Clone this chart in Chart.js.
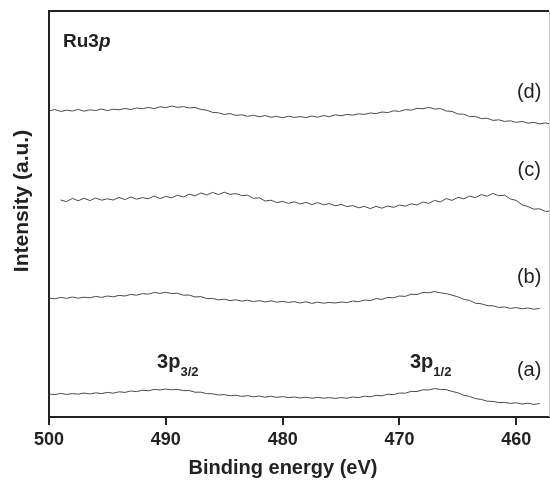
<!DOCTYPE html>
<html>
<head>
<meta charset="utf-8">
<script src="https://cdn.jsdelivr.net/npm/chart.js@4.4.1/dist/chart.umd.min.js"></script>
<style>
  html, body { margin: 0; padding: 0; background: #fff; }
  canvas { display: block; }
</style>
</head>
<body>
<canvas id="chart" width="550" height="481"></canvas>
<script>
// binding energy (eV), 0.5 eV steps
const energy = [
  500, 499.5, 499, 498.5, 498, 497.5, 497, 496.5, 496, 495.5,
  495, 494.5, 494, 493.5, 493, 492.5, 492, 491.5, 491, 490.5,
  490, 489.5, 489, 488.5, 488, 487.5, 487, 486.5, 486, 485.5,
  485, 484.5, 484, 483.5, 483, 482.5, 482, 481.5, 481, 480.5,
  480, 479.5, 479, 478.5, 478, 477.5, 477, 476.5, 476, 475.5,
  475, 474.5, 474, 473.5, 473, 472.5, 472, 471.5, 471, 470.5,
  470, 469.5, 469, 468.5, 468, 467.5, 467, 466.5, 466, 465.5,
  465, 464.5, 464, 463.5, 463, 462.5, 462, 461.5, 461, 460.5,
  460, 459.5, 459, 458.5, 458, 457.5, 457
];

// intensities (a.u., curves stacked with offsets)
const spectrumD = [
  306, 307.5, 305.5, 306.8, 306, 307.6, 305.8, 307.2, 306.5, 308,
  306.4, 307.8, 307.2, 308.6, 307.4, 309, 308.2, 309.6, 308.4, 310.2,
  309.4, 311, 309.6, 310.4, 309, 309.6, 307.6, 306.8, 304.6, 304.2,
  302.6, 303.4, 301.6, 302.2, 300.6, 301.8, 300.2, 301.4, 299.8, 300.6,
  299.2, 300.8, 299.6, 300.4, 299.4, 301, 299.8, 301.4, 300.4, 302.2,
  301.2, 302.6, 301.8, 303.2, 302.6, 304, 303.4, 305, 304.4, 306.2,
  305.6, 307.4, 306.8, 308.6, 308.2, 309.6, 308, 308.4, 306, 305.6,
  303, 302.8, 300.4, 300.6, 298.4, 298.8, 296.6, 297.2, 295.6, 296.2,
  294.6, 295.6, 293.8, 294.6, 293.2, 294, 292.8
];
const spectrumC = [
  null, null, 217, 215.4, 218.6, 216.2, 218.8, 216.4, 219, 216.8,
  218.2, 217, 219.6, 217.4, 220, 217.8, 219.4, 218.2, 221, 218.4,
  220.6, 219.2, 221.8, 220, 222.8, 221.2, 224, 222, 224.6, 222.4,
  224.8, 222.6, 223.4, 221.4, 221.8, 218.6, 219.2, 216, 216.8, 214.4,
  215.6, 213.6, 215.2, 213, 214.6, 212.4, 214.4, 212.2, 213.4, 211.2,
  212.6, 210.4, 211.4, 209.2, 210.6, 208.4, 210.6, 208.8, 211, 209.6,
  212, 210.8, 213.2, 212, 215, 213.6, 216.6, 215, 218.4, 216.6,
  219.6, 218.2, 220.8, 219.4, 222.4, 220.8, 223.6, 221.2, 221.8, 218,
  216.6, 212.2, 210.4, 207.8, 208.2, 205.6, 206
];
const spectrumB = [
  119, 118.2, 119.6, 118.6, 120, 118.8, 119.8, 119.2, 120.6, 119.6,
  121, 120.2, 121.6, 121, 122.6, 121.8, 123.4, 122.8, 124.6, 123.6,
  124.8, 123.4, 123.8, 121.8, 122, 120, 120.4, 118.4, 118.6, 117.2,
  117.8, 116.4, 117.2, 115.8, 116.8, 115.4, 116.4, 115, 116.2, 114.8,
  115.6, 114.6, 115.4, 114, 115.2, 113.6, 114.8, 113.8, 114.6, 114,
  115, 114.4, 116, 115.2, 117, 116.4, 118.4, 117.6, 119.6, 119.2,
  121, 120.6, 122.8, 122.4, 124.6, 124.2, 125.4, 124.2, 123.4, 121.8,
  120.2, 117.6, 116.6, 113.8, 113.2, 111.4, 111.2, 109.6, 110, 108.6,
  109.4, 108.2, 109, 107.8, 108.6, null, null
];
const spectrumA = [
  23, 22.4, 23.6, 22.6, 23.4, 22.8, 24, 23, 24.2, 23.4,
  24.6, 23.8, 25.2, 24.6, 26, 25.4, 26.8, 26.2, 27.6, 27,
  28, 27.2, 27.6, 26.4, 26.4, 24.8, 24.8, 23.4, 23.2, 22,
  22.4, 21.2, 21.8, 20.6, 21.4, 20.2, 21, 19.8, 20.8, 19.6,
  20.4, 19.4, 20, 19, 19.8, 18.8, 19.6, 18.8, 19.4, 18.6,
  19.4, 18.8, 20, 19.4, 20.8, 20.2, 21.6, 21.2, 22.8, 22.4,
  24, 23.8, 25.6, 25.4, 27.2, 27, 28.4, 27.6, 27.4, 25.6,
  24.2, 21.8, 20.6, 18.4, 17.6, 15.8, 15.6, 14.4, 14.6, 13.6,
  14.2, 13, 13.8, 12.6, 13.4, null, null
];

const xTicks = [500, 490, 480, 470, 460];
const curveLabels = ["(a)", "(b)", "(c)", "(d)"];

const FONT = "'Liberation Sans', Arial, sans-serif";
const INK = "#222";

function toPoints(vals) {
  return energy.map((e, i) => ({ x: e, y: vals[i] }));
}

function lineSet(vals) {
  return {
    data: toPoints(vals),
    borderColor: "#4a4a4a",
    borderWidth: 1,
    pointRadius: 0,
    tension: 0,
    spanGaps: false
  };
}

// text drawn on top: panel label, curve labels, peak names, axis titles
const textPlugin = {
  id: "texts",
  afterDraw(chart) {
    const ctx = chart.ctx;
    const xs = chart.scales.x, ys = chart.scales.y;
    const area = chart.chartArea;
    ctx.save();
    ctx.fillStyle = INK;

    // frame: top line and faint right edge
    ctx.strokeStyle = INK;
    ctx.lineWidth = 2;
    ctx.beginPath();
    ctx.moveTo(area.left - 1, area.top);
    ctx.lineTo(area.right, area.top);
    ctx.stroke();
    ctx.strokeStyle = "#ccc";
    ctx.lineWidth = 1;
    ctx.beginPath();
    ctx.moveTo(area.right + 0.5, area.top);
    ctx.lineTo(area.right + 0.5, area.bottom);
    ctx.stroke();

    // Ru3p
    ctx.textBaseline = "alphabetic";
    ctx.textAlign = "left";
    let px = xs.getPixelForValue(498.8), py = ys.getPixelForValue(370);
    ctx.font = "bold 19px " + FONT;
    ctx.fillText("Ru3", px, py);
    const w = ctx.measureText("Ru3").width;
    ctx.font = "italic bold 19px " + FONT;
    ctx.fillText("p", px + w, py);

    // curve labels
    ctx.font = "20px " + FONT;
    ctx.textAlign = "center";
    ctx.textBaseline = "middle";
    const labelY = [47, 140, 247, 325];
    curveLabels.forEach((t, i) => {
      ctx.fillText(t, xs.getPixelForValue(458.9), ys.getPixelForValue(labelY[i]));
    });

    // peak names
    function peak(e, sub) {
      const x0 = xs.getPixelForValue(e), y0 = ys.getPixelForValue(49);
      ctx.textAlign = "left";
      ctx.textBaseline = "alphabetic";
      ctx.font = "bold 20px " + FONT;
      ctx.fillText("3p", x0, y0);
      const ww = ctx.measureText("3p").width;
      ctx.font = "bold 13px " + FONT;
      ctx.fillText(sub, x0 + ww, y0 + 8);
    }
    peak(490.75, "3/2");
    peak(469.1, "1/2");

    // axis titles
    ctx.font = "bold 20px " + FONT;
    ctx.textAlign = "center";
    ctx.textBaseline = "middle";
    ctx.fillText("Binding energy (eV)", 283, 468);
    ctx.translate(22, 201);
    ctx.rotate(-Math.PI / 2);
    ctx.font = "bold 21px " + FONT;
    ctx.fillText("Intensity (a.u.)", 0, 0);
    ctx.restore();
  }
};

new Chart(document.getElementById("chart").getContext("2d"), {
  type: "line",
  data: {
    datasets: [
      lineSet(spectrumA),
      lineSet(spectrumB),
      lineSet(spectrumC),
      lineSet(spectrumD)
    ]
  },
  options: {
    responsive: false,
    animation: false,
    devicePixelRatio: 1,
    layout: { padding: { top: 11, right: 1, left: 0, bottom: 0 } },
    plugins: { legend: { display: false }, tooltip: { enabled: false } },
    scales: {
      x: {
        type: "linear",
        reverse: true,
        min: 457.2,
        max: 500,
        afterBuildTicks(scale) {
          scale.ticks = xTicks.map(v => ({ value: v }));
        },
        afterFit(scale) { scale.height = 64; },
        ticks: {
          includeBounds: false,
          color: INK,
          font: { family: FONT, size: 18, weight: "bold" },
          padding: 4,
          maxRotation: 0
        },
        grid: {
          drawOnChartArea: false,
          drawTicks: true,
          tickLength: 8,
          color: INK,
          lineWidth: 2
        },
        border: { display: true, color: INK, width: 2 }
      },
      y: {
        min: 0,
        max: 406,
        afterFit(scale) { scale.width = 49; },
        ticks: { display: false },
        grid: { display: false, drawTicks: false },
        border: { display: true, color: INK, width: 2 }
      }
    }
  },
  plugins: [textPlugin]
});
</script>
</body>
</html>
